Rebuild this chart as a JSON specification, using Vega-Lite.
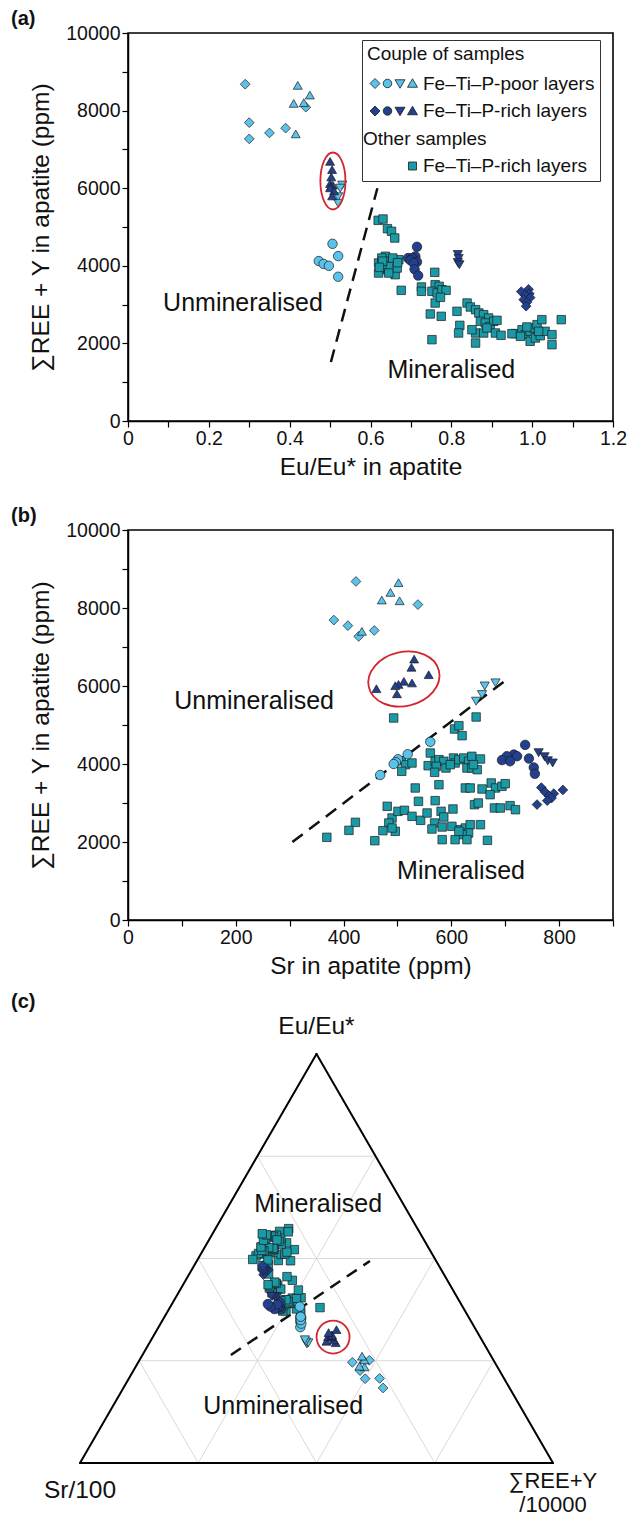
{
  "$schema": "https://vega.github.io/schema/vega-lite/v6.json",
  "background": "white",
  "padding": {"left": 10, "top": 8, "right": 5, "bottom": 0},
  "autosize": {"type": "pad"},
  "bounds": "flush",
  "spacing": 109,
  "config": {
    "font": "Liberation Sans",
    "view": {"stroke": null},
    "axis": {
      "domainColor": "#000", "domainWidth": 1.5,
      "tickColor": "#000", "tickWidth": 1.2, "tickSize": 6,
      "labelFontSize": 19.5, "labelColor": "#111", "labelPadding": 2,
      "labelFlush": false, "labelOverlap": false,
      "titleFontSize": 24.5, "titleFontWeight": "normal", "titleColor": "#111",
      "grid": false
    },
    "title": {"fontSize": 20, "fontWeight": "bold", "color": "#111", "anchor": "start", "frame": "group"}
  },
  "datasets": {
    "pairs": [
      {"layers": "poor", "couple": "C1", "eu": 0.29, "sr": 423, "ree": 8680},
      {"layers": "poor", "couple": "C1", "eu": 0.44, "sr": 538, "ree": 8088},
      {"layers": "poor", "couple": "C1", "eu": 0.30, "sr": 382, "ree": 7690},
      {"layers": "poor", "couple": "C1", "eu": 0.39, "sr": 408, "ree": 7548},
      {"layers": "poor", "couple": "C1", "eu": 0.35, "sr": 457, "ree": 7424},
      {"layers": "poor", "couple": "C1", "eu": 0.30, "sr": 428, "ree": 7272},
      {"layers": "poor", "couple": "C4", "eu": 0.42, "sr": 502, "ree": 8650},
      {"layers": "poor", "couple": "C4", "eu": 0.45, "sr": 487, "ree": 8400},
      {"layers": "poor", "couple": "C4", "eu": 0.435, "sr": 471, "ree": 8205},
      {"layers": "poor", "couple": "C4", "eu": 0.41, "sr": 504, "ree": 8185},
      {"layers": "poor", "couple": "C4", "eu": 0.415, "sr": 434, "ree": 7400},
      {"layers": "poor", "couple": "C3", "eu": 0.53, "sr": 682, "ree": 6080},
      {"layers": "poor", "couple": "C3", "eu": 0.525, "sr": 662, "ree": 6000},
      {"layers": "poor", "couple": "C3", "eu": 0.52, "sr": 657, "ree": 5780},
      {"layers": "poor", "couple": "C3", "eu": 0.52, "sr": 646, "ree": 5610},
      {"layers": "poor", "couple": "C2", "eu": 0.506, "sr": 561, "ree": 4567},
      {"layers": "poor", "couple": "C2", "eu": 0.520, "sr": 519, "ree": 4250},
      {"layers": "poor", "couple": "C2", "eu": 0.472, "sr": 501, "ree": 4122},
      {"layers": "poor", "couple": "C2", "eu": 0.484, "sr": 497, "ree": 4048},
      {"layers": "poor", "couple": "C2", "eu": 0.497, "sr": 493, "ree": 4000},
      {"layers": "poor", "couple": "C2", "eu": 0.520, "sr": 468, "ree": 3718},
      {"layers": "rich", "couple": "C4", "eu": 0.500, "sr": 531, "ree": 6690},
      {"layers": "rich", "couple": "C4", "eu": 0.505, "sr": 526, "ree": 6480},
      {"layers": "rich", "couple": "C4", "eu": 0.503, "sr": 558, "ree": 6290},
      {"layers": "rich", "couple": "C4", "eu": 0.500, "sr": 512, "ree": 6120},
      {"layers": "rich", "couple": "C4", "eu": 0.507, "sr": 527, "ree": 6077},
      {"layers": "rich", "couple": "C4", "eu": 0.502, "sr": 502, "ree": 6040},
      {"layers": "rich", "couple": "C4", "eu": 0.500, "sr": 496, "ree": 6008},
      {"layers": "rich", "couple": "C4", "eu": 0.510, "sr": 461, "ree": 5931},
      {"layers": "rich", "couple": "C4", "eu": 0.505, "sr": 499, "ree": 5800},
      {"layers": "rich", "couple": "C2", "eu": 0.715, "sr": 737, "ree": 4490},
      {"layers": "rich", "couple": "C2", "eu": 0.711, "sr": 716, "ree": 4242},
      {"layers": "rich", "couple": "C2", "eu": 0.693, "sr": 703, "ree": 4199},
      {"layers": "rich", "couple": "C2", "eu": 0.703, "sr": 722, "ree": 4199},
      {"layers": "rich", "couple": "C2", "eu": 0.699, "sr": 744, "ree": 4140},
      {"layers": "rich", "couple": "C2", "eu": 0.715, "sr": 694, "ree": 4100},
      {"layers": "rich", "couple": "C2", "eu": 0.707, "sr": 709, "ree": 4070},
      {"layers": "rich", "couple": "C2", "eu": 0.709, "sr": 753, "ree": 3910},
      {"layers": "rich", "couple": "C2", "eu": 0.718, "sr": 755, "ree": 3748},
      {"layers": "rich", "couple": "C3", "eu": 0.816, "sr": 762, "ree": 4290},
      {"layers": "rich", "couple": "C3", "eu": 0.818, "sr": 773, "ree": 4186},
      {"layers": "rich", "couple": "C3", "eu": 0.816, "sr": 779, "ree": 4083},
      {"layers": "rich", "couple": "C3", "eu": 0.820, "sr": 788, "ree": 4027},
      {"layers": "rich", "couple": "C1", "eu": 0.991, "sr": 767, "ree": 3395},
      {"layers": "rich", "couple": "C1", "eu": 0.973, "sr": 807, "ree": 3335},
      {"layers": "rich", "couple": "C1", "eu": 0.993, "sr": 774, "ree": 3280},
      {"layers": "rich", "couple": "C1", "eu": 0.983, "sr": 790, "ree": 3240},
      {"layers": "rich", "couple": "C1", "eu": 0.995, "sr": 781, "ree": 3180},
      {"layers": "rich", "couple": "C1", "eu": 0.979, "sr": 786, "ree": 3128},
      {"layers": "rich", "couple": "C1", "eu": 0.987, "sr": 778, "ree": 3060},
      {"layers": "rich", "couple": "C1", "eu": 0.985, "sr": 759, "ree": 2960}
    ],
    "teal_eu": [
      {"eu": 0.619, "ree": 5172}, {"eu": 0.631, "ree": 5206}, {"eu": 0.642, "ree": 4957}, {"eu": 0.652, "ree": 4888}, {"eu": 0.660, "ree": 4716},
      {"eu": 0.620, "ree": 4072}, {"eu": 0.637, "ree": 4245}, {"eu": 0.645, "ree": 4116}, {"eu": 0.657, "ree": 4028}, {"eu": 0.670, "ree": 4157},
      {"eu": 0.624, "ree": 3900}, {"eu": 0.641, "ree": 3943}, {"eu": 0.653, "ree": 3858}, {"eu": 0.661, "ree": 3771}, {"eu": 0.633, "ree": 3987},
      {"eu": 0.649, "ree": 3987}, {"eu": 0.666, "ree": 3943}, {"eu": 0.628, "ree": 4201}, {"eu": 0.655, "ree": 4201}, {"eu": 0.620, "ree": 3814},
      {"eu": 0.645, "ree": 3814}, {"eu": 0.630, "ree": 4120}, {"eu": 0.667, "ree": 4080}, {"eu": 0.622, "ree": 3960},
      {"eu": 0.676, "ree": 3368}, {"eu": 0.726, "ree": 3454}, {"eu": 0.726, "ree": 3342}, {"eu": 0.759, "ree": 3832}, {"eu": 0.760, "ree": 3513},
      {"eu": 0.770, "ree": 3471}, {"eu": 0.752, "ree": 3342}, {"eu": 0.765, "ree": 3299}, {"eu": 0.777, "ree": 3384}, {"eu": 0.787, "ree": 3368},
      {"eu": 0.760, "ree": 3041}, {"eu": 0.773, "ree": 3188}, {"eu": 0.748, "ree": 2758}, {"eu": 0.775, "ree": 2698}, {"eu": 0.752, "ree": 2096},
      {"eu": 0.814, "ree": 2827}, {"eu": 0.821, "ree": 2465}, {"eu": 0.818, "ree": 2268}, {"eu": 0.839, "ree": 3041}, {"eu": 0.847, "ree": 2938},
      {"eu": 0.860, "ree": 2869}, {"eu": 0.868, "ree": 2784}, {"eu": 0.880, "ree": 2740}, {"eu": 0.892, "ree": 2655}, {"eu": 0.872, "ree": 2569},
      {"eu": 0.884, "ree": 2526}, {"eu": 0.896, "ree": 2440}, {"eu": 0.905, "ree": 2569}, {"eu": 0.913, "ree": 2595}, {"eu": 0.860, "ree": 2268},
      {"eu": 0.880, "ree": 2268}, {"eu": 0.860, "ree": 2010}, {"eu": 0.909, "ree": 2268}, {"eu": 0.923, "ree": 2208}, {"eu": 0.888, "ree": 2397},
      {"eu": 0.851, "ree": 2353}, {"eu": 0.958, "ree": 2251}, {"eu": 0.975, "ree": 2353}, {"eu": 0.983, "ree": 2225}, {"eu": 0.995, "ree": 2311},
      {"eu": 1.004, "ree": 2397}, {"eu": 1.012, "ree": 2483}, {"eu": 1.024, "ree": 2612}, {"eu": 0.995, "ree": 2054}, {"eu": 1.008, "ree": 2139},
      {"eu": 1.020, "ree": 2199}, {"eu": 1.032, "ree": 2311}, {"eu": 1.049, "ree": 2225}, {"eu": 1.049, "ree": 1967}, {"eu": 1.072, "ree": 2612},
      {"eu": 0.971, "ree": 2182}, {"eu": 0.987, "ree": 2423}, {"eu": 1.016, "ree": 2311}, {"eu": 0.950, "ree": 2251}
    ],
    "teal_sr": [
      {"sr": 493, "ree": 5180}, {"sr": 646, "ree": 5205}, {"sr": 606, "ree": 4897}, {"sr": 614, "ree": 4982}, {"sr": 620, "ree": 4726},
      {"sr": 507, "ree": 4085}, {"sr": 515, "ree": 3983}, {"sr": 527, "ree": 4026}, {"sr": 508, "ree": 3812}, {"sr": 561, "ree": 4282},
      {"sr": 557, "ree": 3957}, {"sr": 570, "ree": 4069}, {"sr": 577, "ree": 4111}, {"sr": 586, "ree": 4069}, {"sr": 572, "ree": 3940},
      {"sr": 569, "ree": 3786}, {"sr": 590, "ree": 3897}, {"sr": 604, "ree": 4154}, {"sr": 607, "ree": 4026}, {"sr": 614, "ree": 4111},
      {"sr": 623, "ree": 4154}, {"sr": 632, "ree": 4069}, {"sr": 638, "ree": 4197}, {"sr": 629, "ree": 3897}, {"sr": 638, "ree": 3897},
      {"sr": 648, "ree": 3854}, {"sr": 654, "ree": 4128}, {"sr": 641, "ree": 3983}, {"sr": 598, "ree": 3983},
      {"sr": 533, "ree": 3385}, {"sr": 577, "ree": 3470}, {"sr": 626, "ree": 3385}, {"sr": 635, "ree": 3385}, {"sr": 657, "ree": 3359},
      {"sr": 674, "ree": 3513}, {"sr": 682, "ree": 3385}, {"sr": 694, "ree": 3428}, {"sr": 700, "ree": 3496}, {"sr": 672, "ree": 3214},
      {"sr": 539, "ree": 3043}, {"sr": 570, "ree": 3060}, {"sr": 643, "ree": 2957}, {"sr": 650, "ree": 3000}, {"sr": 603, "ree": 2846},
      {"sr": 680, "ree": 2872}, {"sr": 691, "ree": 2872}, {"sr": 709, "ree": 2932}, {"sr": 719, "ree": 2829},
      {"sr": 481, "ree": 2915}, {"sr": 490, "ree": 2615}, {"sr": 501, "ree": 2786}, {"sr": 513, "ree": 2812}, {"sr": 527, "ree": 2658},
      {"sr": 543, "ree": 2556}, {"sr": 555, "ree": 2744}, {"sr": 569, "ree": 2487}, {"sr": 581, "ree": 2786}, {"sr": 586, "ree": 2641},
      {"sr": 583, "ree": 2385}, {"sr": 601, "ree": 2402}, {"sr": 617, "ree": 2316}, {"sr": 626, "ree": 2359}, {"sr": 635, "ree": 2444},
      {"sr": 654, "ree": 2444}, {"sr": 632, "ree": 2231}, {"sr": 620, "ree": 2188}, {"sr": 629, "ree": 2060}, {"sr": 607, "ree": 2060},
      {"sr": 583, "ree": 2060}, {"sr": 667, "ree": 2043}, {"sr": 484, "ree": 2487}, {"sr": 496, "ree": 2274}, {"sr": 473, "ree": 2291},
      {"sr": 490, "ree": 2359}, {"sr": 422, "ree": 2504}, {"sr": 410, "ree": 2299}, {"sr": 369, "ree": 2120}, {"sr": 458, "ree": 2034},
      {"sr": 564, "ree": 2333}, {"sr": 614, "ree": 2274}
    ],
    "teal_tern": [
      {"eu": 0.631, "sr": 646, "ree": 5206}, {"eu": 0.619, "sr": 493, "ree": 5172}, {"eu": 0.642, "sr": 614, "ree": 4957},
      {"eu": 0.652, "sr": 606, "ree": 4888}, {"eu": 0.660, "sr": 620, "ree": 4716}, {"eu": 0.637, "sr": 561, "ree": 4245},
      {"eu": 0.628, "sr": 638, "ree": 4201}, {"eu": 0.655, "sr": 604, "ree": 4201}, {"eu": 0.670, "sr": 623, "ree": 4157},
      {"eu": 0.630, "sr": 654, "ree": 4120}, {"eu": 0.645, "sr": 577, "ree": 4116}, {"eu": 0.667, "sr": 614, "ree": 4080},
      {"eu": 0.620, "sr": 507, "ree": 4072}, {"eu": 0.657, "sr": 570, "ree": 4028}, {"eu": 0.633, "sr": 586, "ree": 3987},
      {"eu": 0.649, "sr": 632, "ree": 3987}, {"eu": 0.622, "sr": 527, "ree": 3960}, {"eu": 0.641, "sr": 607, "ree": 3943},
      {"eu": 0.666, "sr": 515, "ree": 3943}, {"eu": 0.624, "sr": 641, "ree": 3900}, {"eu": 0.653, "sr": 598, "ree": 3858},
      {"eu": 0.759, "sr": 557, "ree": 3832}, {"eu": 0.620, "sr": 572, "ree": 3814}, {"eu": 0.645, "sr": 590, "ree": 3814},
      {"eu": 0.661, "sr": 629, "ree": 3771}, {"eu": 0.760, "sr": 638, "ree": 3513}, {"eu": 0.770, "sr": 648, "ree": 3471},
      {"eu": 0.726, "sr": 674, "ree": 3454}, {"eu": 0.777, "sr": 700, "ree": 3384}, {"eu": 0.676, "sr": 577, "ree": 3368},
      {"eu": 0.787, "sr": 694, "ree": 3368}, {"eu": 0.726, "sr": 533, "ree": 3342}, {"eu": 0.752, "sr": 626, "ree": 3342},
      {"eu": 0.765, "sr": 635, "ree": 3299}, {"eu": 0.773, "sr": 682, "ree": 3188}, {"eu": 0.760, "sr": 473, "ree": 3041},
      {"eu": 0.839, "sr": 672, "ree": 3041}, {"eu": 0.847, "sr": 570, "ree": 2938}, {"eu": 0.860, "sr": 539, "ree": 2869},
      {"eu": 0.814, "sr": 496, "ree": 2827}, {"eu": 0.868, "sr": 643, "ree": 2784}, {"eu": 0.748, "sr": 410, "ree": 2758},
      {"eu": 0.880, "sr": 481, "ree": 2740}, {"eu": 0.775, "sr": 458, "ree": 2698}, {"eu": 0.892, "sr": 691, "ree": 2655},
      {"eu": 0.913, "sr": 603, "ree": 2595}, {"eu": 1.024, "sr": 719, "ree": 2612}, {"eu": 1.072, "sr": 607, "ree": 2612},
      {"eu": 0.872, "sr": 501, "ree": 2569}, {"eu": 0.905, "sr": 581, "ree": 2569}, {"eu": 0.884, "sr": 555, "ree": 2526},
      {"eu": 1.012, "sr": 527, "ree": 2483}, {"eu": 0.821, "sr": 586, "ree": 2465}, {"eu": 0.896, "sr": 490, "ree": 2440},
      {"eu": 0.987, "sr": 543, "ree": 2423}, {"eu": 0.888, "sr": 422, "ree": 2397}, {"eu": 1.004, "sr": 569, "ree": 2397},
      {"eu": 0.851, "sr": 484, "ree": 2353}, {"eu": 0.975, "sr": 635, "ree": 2353}, {"eu": 0.995, "sr": 654, "ree": 2311},
      {"eu": 1.032, "sr": 601, "ree": 2311}, {"eu": 1.016, "sr": 583, "ree": 2311}, {"eu": 0.818, "sr": 513, "ree": 2268},
      {"eu": 0.860, "sr": 490, "ree": 2268}, {"eu": 0.880, "sr": 564, "ree": 2268}, {"eu": 0.909, "sr": 617, "ree": 2268},
      {"eu": 0.958, "sr": 709, "ree": 2251}, {"eu": 0.950, "sr": 680, "ree": 2251}, {"eu": 0.983, "sr": 657, "ree": 2225},
      {"eu": 1.049, "sr": 614, "ree": 2225}, {"eu": 0.923, "sr": 632, "ree": 2208}, {"eu": 1.020, "sr": 620, "ree": 2199},
      {"eu": 0.971, "sr": 650, "ree": 2182}, {"eu": 1.008, "sr": 629, "ree": 2139}, {"eu": 0.752, "sr": 369, "ree": 2096},
      {"eu": 0.995, "sr": 583, "ree": 2060}, {"eu": 0.860, "sr": 667, "ree": 2010}, {"eu": 1.049, "sr": 626, "ree": 1967}
    ],
    "legend_items": [{"entry": "poor"}, {"entry": "rich"}, {"entry": "hdr"}, {"entry": "other"}],
    "divide_a": [{"eu": 0.502, "ree": 1520, "eu2": 0.617, "ree2": 6000}],
    "divide_b": [{"sr": 305, "ree": 2000, "sr2": 706, "ree2": 6200}],
    "ring_a": [{"eu": 0.507, "ree": 6186}],
    "ring_b": [{"sr": 512, "ree": 6179}],
    "labels_a": [{"label": "Unmineralised", "eu": 0.2845, "ree": 3041}, {"label": "Mineralised", "eu": 0.800, "ree": 1322}],
    "labels_b": [{"label": "Unmineralised", "sr": 234, "ree": 5628}, {"label": "Mineralised", "sr": 618, "ree": 1269}],
    "tern_grid": [
      {"eu1": 0.25, "ree1": 0, "eu2": 0.25, "ree2": 0.75},
      {"eu1": 0.5, "ree1": 0, "eu2": 0.5, "ree2": 0.5},
      {"eu1": 0.75, "ree1": 0, "eu2": 0.75, "ree2": 0.25},
      {"eu1": 0, "ree1": 0.25, "eu2": 0.75, "ree2": 0.25},
      {"eu1": 0, "ree1": 0.5, "eu2": 0.5, "ree2": 0.5},
      {"eu1": 0, "ree1": 0.75, "eu2": 0.25, "ree2": 0.75},
      {"eu1": 0, "ree1": 0.75, "eu2": 0.75, "ree2": 0},
      {"eu1": 0, "ree1": 0.5, "eu2": 0.5, "ree2": 0},
      {"eu1": 0, "ree1": 0.25, "eu2": 0.25, "ree2": 0}
    ],
    "tern_frame": [
      {"eu1": 0, "ree1": 0, "eu2": 0, "ree2": 1},
      {"eu1": 0, "ree1": 1, "eu2": 1, "ree2": 0},
      {"eu1": 1, "ree1": 0, "eu2": 0, "ree2": 0}
    ],
    "tern_divide": [{"eu1": 0.264, "ree1": 0.187, "eu2": 0.494, "ree2": 0.366}],
    "tern_ring": [{"eu": 0.308, "ree": 0.381}],
    "tern_labels": [{"label": "Mineralised", "eu": 0.633, "ree": 0.187}, {"label": "Unmineralised", "eu": 0.139, "ree": 0.36}],
    "tern_vertices": [
      {"corner": "top", "label": "Eu/Eu*", "eu": 1, "ree": 0},
      {"corner": "left", "label": "Sr/100", "eu": 0, "ree": 0},
      {"corner": "right", "label": "∑REE+Y\n/10000", "eu": 0, "ree": 1}
    ]
  },
  "vconcat": [
    {
      "width": 485, "height": 388,
      "view": {"stroke": "#000", "strokeWidth": 1.6},
      "title": {"text": "(a)", "dx": -117, "offset": -6},
      "encoding": {
        "x": {"field": "eu", "type": "quantitative",
          "scale": {"domain": [0, 1.2], "nice": false, "zero": false},
          "axis": {"title": "Eu/Eu* in apatite", "titlePadding": 8,
            "values": [0, 0.1, 0.2, 0.3, 0.4, 0.5, 0.6, 0.7, 0.8, 0.9, 1, 1.1, 1.2],
            "labelExpr": "datum.value === 0 ? '0' : (round(datum.value * 10) % 2 === 0 ? format(datum.value, '.1f') : '')"}},
        "y": {"field": "ree", "type": "quantitative",
          "scale": {"domain": [0, 10000], "nice": false},
          "axis": {"title": "∑REE + Y in apatite (ppm)", "titlePadding": 12, "format": "d",
            "values": [0, 1000, 2000, 3000, 4000, 5000, 6000, 7000, 8000, 9000, 10000],
            "labelExpr": "datum.value % 2000 === 0 ? datum.label : ''"}}
      },
      "resolve": {"scale": {"fill": "independent", "shape": "independent"}},
      "layer": [
        {"data": {"name": "divide_a"},
         "mark": {"type": "rule", "color": "#111", "strokeWidth": 2.5, "strokeDash": [13, 8]},
         "encoding": {"x2": {"field": "eu2"}, "y2": {"field": "ree2"}}},
        {"data": {"name": "teal_eu"},
         "mark": {"type": "point", "shape": "square", "filled": true, "fill": "#1a99a6", "stroke": "#1b1b1b", "strokeWidth": 0.7, "size": 72, "opacity": 1}},
        {"data": {"name": "pairs"},
         "mark": {"type": "point", "filled": true, "stroke": "#1b1b1b", "strokeWidth": 0.7, "opacity": 1},
         "encoding": {
           "fill": {"field": "layers", "type": "nominal", "scale": {"domain": ["poor", "rich"], "range": ["#5bc2ea", "#23408e"]}, "legend": null},
           "shape": {"field": "couple", "type": "nominal", "scale": {"domain": ["C1", "C2", "C3", "C4"], "range": ["diamond", "circle", "triangle-down", "triangle-up"]}, "legend": null},
           "size": {"field": "couple", "type": "nominal", "scale": {"domain": ["C1", "C2", "C3", "C4"], "range": [95, 80, 115, 115]}, "legend": null}
         }},
        {"data": {"name": "ring_a"},
         "mark": {"type": "point", "filled": false, "stroke": "#d3262f", "strokeWidth": 1.8, "size": 3249, "opacity": 1,
           "shape": "M0.44,0 C0.44,0.552 0.243,1 0,1 C-0.243,1 -0.44,0.552 -0.44,0 C-0.44,-0.552 -0.243,-1 0,-1 C0.243,-1 0.44,-0.552 0.44,0 Z"}},
        {"data": {"name": "labels_a"},
         "mark": {"type": "text", "fontSize": 25, "color": "#111", "baseline": "middle"},
         "encoding": {"text": {"field": "label"}}},
        {"data": {"name": "legend_items"},
         "mark": {"type": "point", "filled": true, "opacity": 0},
         "encoding": {
           "fill": {"field": "entry", "type": "nominal",
             "scale": {"domain": ["poor", "rich", "hdr", "other"], "range": ["#5bc2ea", "#23408e", "transparent", "#1a99a6"]},
             "legend": {"title": "Couple of samples", "orient": "none", "legendX": 234, "legendY": 7, "direction": "vertical",
               "strokeColor": "#333", "fillColor": "white", "padding": 5, "cornerRadius": 0,
               "titleFontSize": 19, "titleFontWeight": "normal", "titleColor": "#111", "titlePadding": 10, "titleLimit": 400,
               "labelFontSize": 19, "labelColor": "#111", "labelLimit": 400,
               "symbolSize": 100, "symbolOffset": 36, "labelOffset": 1, "rowPadding": 7.5,
               "symbolStrokeColor": "#1b1b1b", "symbolStrokeWidth": 0.8, "symbolOpacity": 1,
               "labelExpr": "datum.value === 'poor' ? 'Fe–Ti–P-poor layers' : (datum.value === 'hdr' ? 'Other samples' : 'Fe–Ti–P-rich layers')",
               "encode": {"labels": {"update": {"dx": {"signal": "datum.value === 'hdr' ? -60 : 0"}}}}}},
           "shape": {"field": "entry", "type": "nominal",
             "scale": {"domain": ["poor", "rich", "hdr", "other"], "range": [
               "M-8.5,0L-7.5,-1L-6.5,0L-7.5,1Z M-4.15,0C-4.15,0.469,-4.531,0.85,-5,0.85C-5.469,0.85,-5.85,0.469,-5.85,0C-5.85,-0.469,-5.469,-0.85,-5,-0.85C-4.531,-0.85,-4.15,-0.469,-4.15,0Z M-3.5,-0.75L-1.5,-0.75L-2.5,0.95Z M-1,0.75L1,0.75L0,-0.95Z",
               "M-8.5,0L-7.5,-1L-6.5,0L-7.5,1Z M-4.15,0C-4.15,0.469,-4.531,0.85,-5,0.85C-5.469,0.85,-5.85,0.469,-5.85,0C-5.85,-0.469,-5.469,-0.85,-5,-0.85C-4.531,-0.85,-4.15,-0.469,-4.15,0Z M-3.5,-0.75L-1.5,-0.75L-2.5,0.95Z M-1,0.75L1,0.75L0,-0.95Z",
               "M0,0",
               "M-0.8,-0.8L0.8,-0.8L0.8,0.8L-0.8,0.8Z"]},
             "legend": {"title": "Couple of samples", "orient": "none", "legendX": 234, "legendY": 7, "direction": "vertical",
               "strokeColor": "#333", "fillColor": "white", "padding": 5, "cornerRadius": 0,
               "titleFontSize": 19, "titleFontWeight": "normal", "titleColor": "#111", "titlePadding": 10, "titleLimit": 400,
               "labelFontSize": 19, "labelColor": "#111", "labelLimit": 400,
               "symbolSize": 100, "symbolOffset": 36, "labelOffset": 1, "rowPadding": 7.5,
               "symbolStrokeColor": "#1b1b1b", "symbolStrokeWidth": 0.8, "symbolOpacity": 1,
               "labelExpr": "datum.value === 'poor' ? 'Fe–Ti–P-poor layers' : (datum.value === 'hdr' ? 'Other samples' : 'Fe–Ti–P-rich layers')",
               "encode": {"labels": {"update": {"dx": {"signal": "datum.value === 'hdr' ? -60 : 0"}}}}}}
         }}
      ]
    },
    {
      "width": 485, "height": 390,
      "view": {"stroke": "#000", "strokeWidth": 1.6},
      "title": {"text": "(b)", "dx": -117, "offset": -6},
      "encoding": {
        "x": {"field": "sr", "type": "quantitative",
          "scale": {"domain": [0, 900], "nice": false, "zero": false},
          "axis": {"title": "Sr in apatite (ppm)", "titlePadding": 8, "format": "d",
            "values": [0, 100, 200, 300, 400, 500, 600, 700, 800, 900],
            "labelExpr": "datum.value % 200 === 0 ? datum.label : ''"}},
        "y": {"field": "ree", "type": "quantitative",
          "scale": {"domain": [0, 10000], "nice": false},
          "axis": {"title": "∑REE + Y in apatite (ppm)", "titlePadding": 12, "format": "d",
            "values": [0, 1000, 2000, 3000, 4000, 5000, 6000, 7000, 8000, 9000, 10000],
            "labelExpr": "datum.value % 2000 === 0 ? datum.label : ''"}}
      },
      "layer": [
        {"data": {"name": "divide_b"},
         "mark": {"type": "rule", "color": "#111", "strokeWidth": 2.5, "strokeDash": [13, 8]},
         "encoding": {"x2": {"field": "sr2"}, "y2": {"field": "ree2"}}},
        {"data": {"name": "teal_sr"},
         "mark": {"type": "point", "shape": "square", "filled": true, "fill": "#1a99a6", "stroke": "#1b1b1b", "strokeWidth": 0.7, "size": 72, "opacity": 1}},
        {"data": {"name": "pairs"},
         "mark": {"type": "point", "filled": true, "stroke": "#1b1b1b", "strokeWidth": 0.7, "opacity": 1},
         "encoding": {
           "fill": {"field": "layers", "type": "nominal", "scale": {"domain": ["poor", "rich"], "range": ["#5bc2ea", "#23408e"]}, "legend": null},
           "shape": {"field": "couple", "type": "nominal", "scale": {"domain": ["C1", "C2", "C3", "C4"], "range": ["diamond", "circle", "triangle-down", "triangle-up"]}, "legend": null},
           "size": {"field": "couple", "type": "nominal", "scale": {"domain": ["C1", "C2", "C3", "C4"], "range": [95, 80, 115, 115]}, "legend": null}
         }},
        {"data": {"name": "ring_b"},
         "mark": {"type": "point", "filled": false, "stroke": "#d3262f", "strokeWidth": 1.8, "size": 5184, "angle": 347, "opacity": 1,
           "shape": "M1,0 C1,0.414 0.552,0.75 0,0.75 C-0.552,0.75 -1,0.414 -1,0 C-1,-0.414 -0.552,-0.75 0,-0.75 C0.552,-0.75 1,-0.414 1,0 Z"}},
        {"data": {"name": "labels_b"},
         "mark": {"type": "text", "fontSize": 25, "color": "#111", "baseline": "middle"},
         "encoding": {"text": {"field": "label"}}}
      ]
    },
    {
      "width": 485, "height": 434,
      "title": {"text": "(c)", "dx": -117, "offset": 2},
      "encoding": {
        "x": {"field": "tx", "type": "quantitative", "scale": {"domain": [0.10148, 1.12685], "nice": false, "zero": false}, "axis": null},
        "y": {"field": "ty", "type": "quantitative", "scale": {"domain": [0, 1.0611], "nice": false, "zero": false}, "axis": null}
      },
      "layer": [
        {"data": {"name": "tern_grid"},
         "transform": [
           {"calculate": "datum.ree1 + datum.eu1 / 2", "as": "tx"}, {"calculate": "datum.eu1", "as": "ty"},
           {"calculate": "datum.ree2 + datum.eu2 / 2", "as": "tx2"}, {"calculate": "datum.eu2", "as": "ty2"}],
         "mark": {"type": "rule", "color": "#dadada", "strokeWidth": 1},
         "encoding": {"x2": {"field": "tx2"}, "y2": {"field": "ty2"}}},
        {"data": {"name": "tern_frame"},
         "transform": [
           {"calculate": "datum.ree1 + datum.eu1 / 2", "as": "tx"}, {"calculate": "datum.eu1", "as": "ty"},
           {"calculate": "datum.ree2 + datum.eu2 / 2", "as": "tx2"}, {"calculate": "datum.eu2", "as": "ty2"}],
         "mark": {"type": "rule", "color": "#000", "strokeWidth": 2, "strokeCap": "round"},
         "encoding": {"x2": {"field": "tx2"}, "y2": {"field": "ty2"}}},
        {"data": {"name": "tern_divide"},
         "transform": [
           {"calculate": "datum.ree1 + datum.eu1 / 2", "as": "tx"}, {"calculate": "datum.eu1", "as": "ty"},
           {"calculate": "datum.ree2 + datum.eu2 / 2", "as": "tx2"}, {"calculate": "datum.eu2", "as": "ty2"}],
         "mark": {"type": "rule", "color": "#111", "strokeWidth": 2.5, "strokeDash": [12, 8]},
         "encoding": {"x2": {"field": "tx2"}, "y2": {"field": "ty2"}}},
        {"data": {"name": "teal_tern"},
         "transform": [
           {"calculate": "(datum.ree / 10000 + datum.eu / 2) / (datum.eu + datum.sr / 1000 + datum.ree / 10000)", "as": "tx"},
           {"calculate": "datum.eu / (datum.eu + datum.sr / 1000 + datum.ree / 10000)", "as": "ty"}],
         "mark": {"type": "point", "shape": "square", "filled": true, "fill": "#1a99a6", "stroke": "#1b1b1b", "strokeWidth": 0.7, "size": 72, "opacity": 1}},
        {"data": {"name": "pairs"},
         "transform": [
           {"calculate": "(datum.ree / 10000 + datum.eu / 2) / (datum.eu + datum.sr / 1000 + datum.ree / 10000)", "as": "tx"},
           {"calculate": "datum.eu / (datum.eu + datum.sr / 1000 + datum.ree / 10000)", "as": "ty"}],
         "mark": {"type": "point", "filled": true, "stroke": "#1b1b1b", "strokeWidth": 0.7, "opacity": 1},
         "encoding": {
           "fill": {"field": "layers", "type": "nominal", "scale": {"domain": ["poor", "rich"], "range": ["#5bc2ea", "#23408e"]}, "legend": null},
           "shape": {"field": "couple", "type": "nominal", "scale": {"domain": ["C1", "C2", "C3", "C4"], "range": ["diamond", "circle", "triangle-down", "triangle-up"]}, "legend": null},
           "size": {"field": "couple", "type": "nominal", "scale": {"domain": ["C1", "C2", "C3", "C4"], "range": [95, 80, 115, 115]}, "legend": null}
         }},
        {"data": {"name": "tern_ring"},
         "transform": [{"calculate": "datum.ree + datum.eu / 2", "as": "tx"}, {"calculate": "datum.eu", "as": "ty"}],
         "mark": {"type": "point", "shape": "circle", "filled": false, "stroke": "#d3262f", "strokeWidth": 1.8, "size": 1089, "opacity": 1}},
        {"data": {"name": "tern_labels"},
         "transform": [{"calculate": "datum.ree + datum.eu / 2", "as": "tx"}, {"calculate": "datum.eu", "as": "ty"}],
         "mark": {"type": "text", "fontSize": 25, "color": "#111", "baseline": "middle"},
         "encoding": {"text": {"field": "label"}}},
        {"data": {"name": "tern_vertices"},
         "transform": [{"filter": "datum.corner === 'top'"}, {"calculate": "datum.ree + datum.eu / 2", "as": "tx"}, {"calculate": "datum.eu", "as": "ty"}],
         "mark": {"type": "text", "fontSize": 24.5, "color": "#111", "baseline": "middle", "dy": -27},
         "encoding": {"text": {"field": "label"}}},
        {"data": {"name": "tern_vertices"},
         "transform": [{"filter": "datum.corner === 'left'"}, {"calculate": "datum.ree + datum.eu / 2", "as": "tx"}, {"calculate": "datum.eu", "as": "ty"}],
         "mark": {"type": "text", "fontSize": 24.5, "color": "#111", "baseline": "middle", "dy": 28},
         "encoding": {"text": {"field": "label"}}},
        {"data": {"name": "tern_vertices"},
         "transform": [{"filter": "datum.corner === 'right'"}, {"calculate": "datum.ree + datum.eu / 2", "as": "tx"}, {"calculate": "datum.eu", "as": "ty"}],
         "mark": {"type": "text", "fontSize": 22, "color": "#111", "baseline": "top", "dy": 8, "lineBreak": "\n", "lineHeight": 24},
         "encoding": {"text": {"field": "label"}}}
      ]
    }
  ]
}
